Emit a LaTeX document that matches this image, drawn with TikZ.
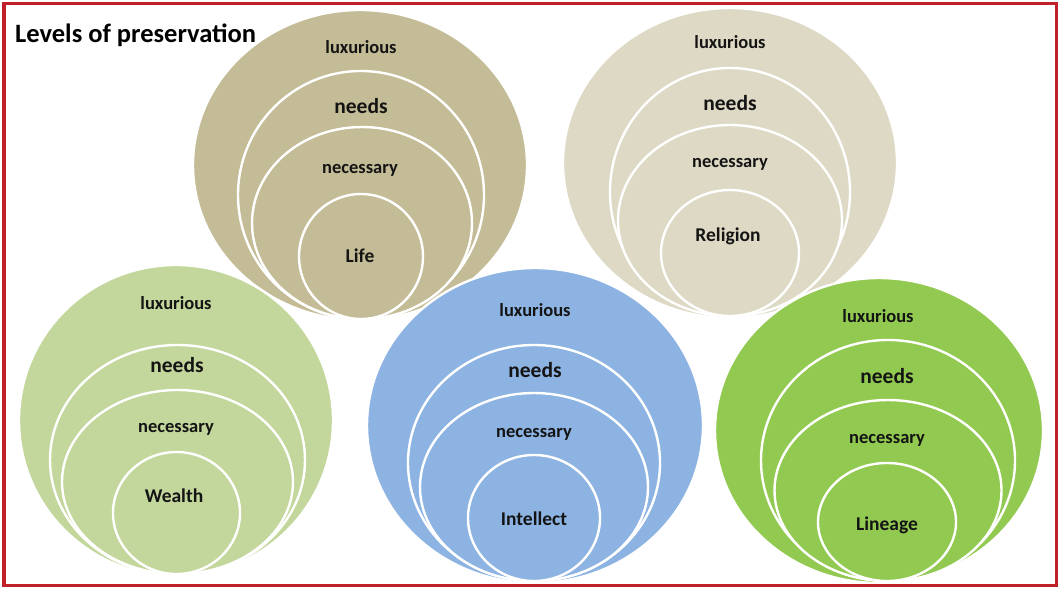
\documentclass[tikz,border=0pt]{standalone}
\usepackage{fontspec}
\setmainfont{Carlito}
\definecolor{FrameRed}{HTML}{C0202A}
\definecolor{LifeTan}{HTML}{C4BC96}
\definecolor{ReligionSand}{HTML}{DDD9C4}
\definecolor{WealthSage}{HTML}{C3D69B}
\definecolor{IntellectBlue}{HTML}{8DB3E2}
\definecolor{LineageGreen}{HTML}{92C950}

\tikzset{
  ring/.style={draw=white, line width=2.4pt},
  levelword/.style={anchor=base, inner sep=0pt, text=black!92,
    font=\bfseries\fontsize{18.5}{20}\selectfont},
  needsword/.style={levelword, font=\bfseries\fontsize{21.5}{24}\selectfont},
  coreword/.style={levelword, font=\bfseries\fontsize{19.5}{22}\selectfont}
}

\begin{document}
\begin{tikzpicture}[x=1pt,y=-1pt]
  \useasboundingbox (0,0) rectangle (1059,590);

  % Life
  \filldraw[ring, fill=LifeTan] (360,165) ellipse [x radius=167, y radius=155];
  \filldraw[ring, fill=LifeTan] (361,195) ellipse [x radius=123, y radius=124];
  \filldraw[ring, fill=LifeTan] (362,223) ellipse [x radius=110, y radius=96];
  \filldraw[ring, fill=LifeTan] (361,256.5) ellipse [x radius=62, y radius=62.5];
  \node[levelword] (lifeLux) at (361,53) {luxurious};
  \node[needsword] (lifeNeeds) at (361,113) {needs};
  \node[levelword] (lifeNec) at (360,173) {necessary};
  \node[coreword] (life) at (360,262) {Life};

  % Religion
  \filldraw[ring, fill=ReligionSand] (730,163) ellipse [x radius=167, y radius=155];
  \filldraw[ring, fill=ReligionSand] (730,192) ellipse [x radius=120, y radius=124];
  \filldraw[ring, fill=ReligionSand] (730,220.5) ellipse [x radius=112, y radius=95.5];
  \filldraw[ring, fill=ReligionSand] (730,253) ellipse [x radius=69, y radius=63];
  \node[levelword] (relLux) at (730,48) {luxurious};
  \node[needsword] (relNeeds) at (730,110) {needs};
  \node[levelword] (relNec) at (730,167) {necessary};
  \node[coreword] (religion) at (728,241) {Religion};

  % Wealth
  \filldraw[ring, fill=WealthSage] (176,420.5) ellipse [x radius=157, y radius=155.5];
  \filldraw[ring, fill=WealthSage] (177.5,460) ellipse [x radius=127.5, y radius=115];
  \filldraw[ring, fill=WealthSage] (177.5,482) ellipse [x radius=115.5, y radius=92];
  \filldraw[ring, fill=WealthSage] (176.5,513) ellipse [x radius=63.5, y radius=61];
  \node[levelword] (wealthLux) at (176,309) {luxurious};
  \node[needsword] (wealthNeeds) at (177,372) {needs};
  \node[levelword] (wealthNec) at (176,432) {necessary};
  \node[coreword] (wealth) at (174,502) {Wealth};

  % Intellect
  \filldraw[ring, fill=IntellectBlue] (535,425.5) ellipse [x radius=168, y radius=157.5];
  \filldraw[ring, fill=IntellectBlue] (534,463) ellipse [x radius=126, y radius=118];
  \filldraw[ring, fill=IntellectBlue] (534,487) ellipse [x radius=114, y radius=94];
  \filldraw[ring, fill=IntellectBlue] (534,518) ellipse [x radius=66, y radius=63];
  \node[levelword] (intLux) at (535,316) {luxurious};
  \node[needsword] (intNeeds) at (535,377) {needs};
  \node[levelword] (intNec) at (534,437) {necessary};
  \node[coreword] (intellect) at (534,525) {Intellect};

  % Lineage
  \filldraw[ring, fill=LineageGreen] (879,430.5) ellipse [x radius=164, y radius=152.5];
  \filldraw[ring, fill=LineageGreen] (888,460.5) ellipse [x radius=127, y radius=120.5];
  \filldraw[ring, fill=LineageGreen] (888,490.5) ellipse [x radius=113.5, y radius=90.5];
  \filldraw[ring, fill=LineageGreen] (887,522) ellipse [x radius=69, y radius=59];
  \node[levelword] (linLux) at (878,322) {luxurious};
  \node[needsword] (linNeeds) at (887,383) {needs};
  \node[levelword] (linNec) at (887,443) {necessary};
  \node[coreword] (lineage) at (887,530) {Lineage};

  % title and frame
  \node[anchor=base west, inner sep=0pt, font=\bfseries\fontsize{26.5}{28}\selectfont]
    (title) at (15,42) {Levels of preservation};
  \draw[FrameRed, line width=3.5pt] (4,3.5) rectangle (1056.5,585.5);
\end{tikzpicture}
\end{document}
